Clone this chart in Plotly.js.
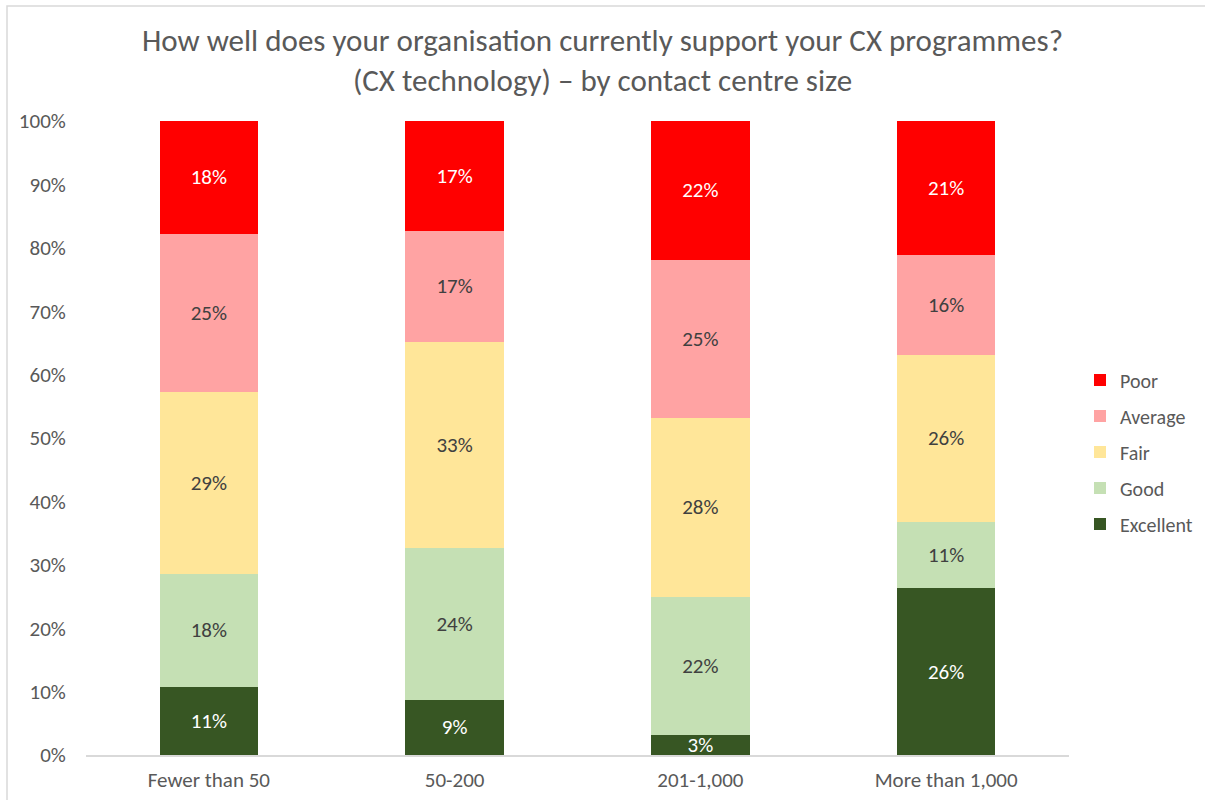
<!DOCTYPE html>
<html>
<head>
<meta charset="utf-8">
<script src="https://cdn.plot.ly/plotly-3.0.1.min.js"></script>
<style>html,body{margin:0;padding:0;background:#fff;}#chart{width:1205px;height:800px;}</style>
</head>
<body>
<div id="chart"></div>
<script>
const categories = ["Fewer than 50", "50-200", "201-1,000", "More than 1,000"];
const excellent = [10.7, 8.7, 3.1, 26.3];
const good = [17.9, 23.9, 21.9, 10.5];
const fair = [28.6, 32.6, 28.1, 26.3];
const average = [25.0, 17.4, 25.0, 15.8];
const poor = [17.9, 17.4, 21.9, 21.1];
const seriesNames = ["Excellent", "Good", "Fair", "Average", "Poor"];
const seriesColors = ["#375623", "#C5E0B4", "#FFE699", "#FFA3A3", "#FF0000"];
const labelColors = ["#FFFFFF", "#404040", "#404040", "#404040", "#FFFFFF"];
const yTickVals = [0, 10, 20, 30, 40, 50, 60, 70, 80, 90, 100];

const FONT = "Calibri, Carlito, Lato, sans-serif";
const series = [excellent, good, fair, average, poor];
const traces = series.map((vals, i) => ({
  type: "bar",
  name: seriesNames[i],
  legendgroup: seriesNames[i],
  legendrank: 1000 - i,
  x: categories,
  y: vals,
  marker: {color: seriesColors[i], line: {width: 0}},
  text: vals.map(v => Math.round(v) + "%"),
  textposition: "inside",
  insidetextanchor: "middle",
  textangle: 0,
  textfont: {family: FONT, size: 21, color: labelColors[i]},
  constraintext: "none",
  hoverinfo: "skip"
}));

const L = 86, R = 1069, T = 121, B = 755;
const px = v => (v - L) / (R - L);
const py = v => (B - v) / (B - T);

const layout = {
  width: 1205, height: 800,
  barmode: "stack",
  bargap: 0.6,
  margin: {l: L, r: 1205 - R, t: T, b: 800 - B},
  paper_bgcolor: "#FFFFFF",
  plot_bgcolor: "#FFFFFF",
  font: {family: FONT, color: "#595959"},
  title: {
    text: "How well does your organisation currently support your CX programmes?<br>(CX technology) – by contact centre size",
    x: 0.5, xref: "container", xanchor: "center",
    y: 1 - 51 / 800, yref: "container", yanchor: "top",
    font: {family: FONT, size: 31, color: "#595959"}
  },
  xaxis: {
    type: "category",
    showgrid: false,
    showline: true, linecolor: "#D9D9D9", linewidth: 1.5,
    ticks: "outside", ticklen: 5, tickcolor: "rgba(0,0,0,0)",
    tickfont: {family: FONT, size: 21, color: "#595959"},
    zeroline: false, fixedrange: true
  },
  yaxis: {
    range: [0, 100],
    tickvals: yTickVals,
    ticktext: yTickVals.map(v => v + "%"),
    showgrid: false, zeroline: false, showline: false,
    ticks: "outside", ticklen: 15, tickcolor: "rgba(0,0,0,0)",
    tickfont: {family: FONT, size: 21, color: "#595959"},
    fixedrange: true
  },
  legend: {
    traceorder: "grouped",
    xref: "container", yref: "container",
    x: 1080 / 1205, xanchor: "left",
    y: 1 - 452 / 800, yanchor: "middle",
    font: {family: FONT, size: 20, color: "#595959"},
    itemwidth: 30,
    tracegroupgap: 7,
    bgcolor: "rgba(0,0,0,0)"
  },
  shapes: [{
    type: "rect", xref: "paper", yref: "paper",
    x0: px(7), x1: px(1215), y0: py(810), y1: py(6),
    line: {color: "#D9D9D9", width: 1.5}, fillcolor: "rgba(0,0,0,0)", layer: "below"
  }],
  showlegend: true
};

Plotly.newPlot("chart", traces, layout, {displayModeBar: false, staticPlot: true});
</script>
</body>
</html>
